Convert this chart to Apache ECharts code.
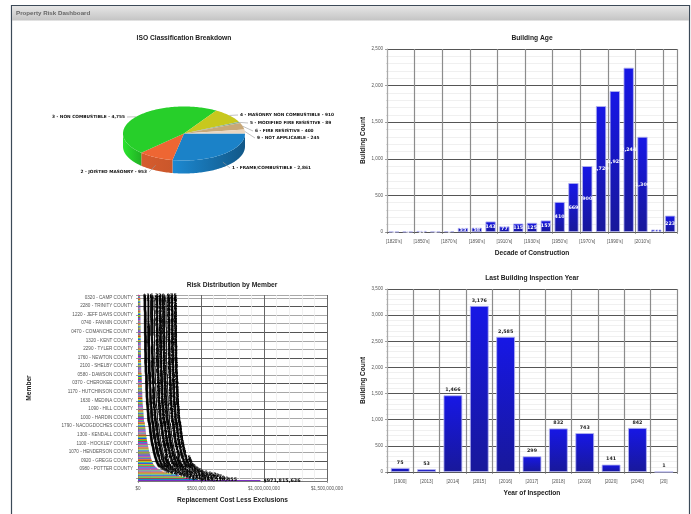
<!DOCTYPE html>
<html><head><meta charset="utf-8">
<script src="https://cdn.jsdelivr.net/npm/echarts@6/dist/echarts.min.js"></script>
<style>html,body{margin:0;padding:0;background:#fff}#c{width:691px;height:514px;filter:blur(.5px)}</style>
</head><body><div id="c"></div>
<script>
const dashboardTitle='Property Risk Dashboard';
const pieNames=['1 - FRAME/COMBUSTIBLE','2 - JOISTED MASONRY','3 - NON COMBUSTIBLE','4 - MASONRY NON COMBUSTIBLE','5 - MODIFIED FIRE RESISTIVE','6 - FIRE RESISTIVE','9 - NOT APPLICABLE'];
const pieValues=[2861,953,4755,910,89,400,245];
const pieColors=['#1b82c8','#ee6633','#27cf2a','#c8c81e','#8fb08f','#c8a878','#ead6c0'];
const ageCategories=["[1820's]","[1840's]","[1850's]","[1860's]","[1870's]","[1880's]","[1890's]","[1900's]","[1910's]","[1920's]","[1930's]","[1940's]","[1950's]","[1960's]","[1970's]","[1980's]","[1990's]","[2000's]","[2010's]","[2020's]",""];
const ageValues=[3,4,14,5,9,55,58,143,77,115,125,157,410,669,900,1720,1925,2244,1300,33,223];
const inspectCategories=['[1900]','[2013]','[2014]','[2015]','[2016]','[2017]','[2018]','[2019]','[2020]','[2040]','[20]'];
const inspectValues=[75,53,1466,3176,2585,299,832,743,141,842,1];
const memberLabels=['','0980 - POTTER COUNTY','0920 - GREGG COUNTY','1070 - HENDERSON COUNTY','1100 - HOCKLEY COUNTY','1300 - KENDALL COUNTY','1790 - NACOGDOCHES COUNTY','1000 - HARDIN COUNTY','1090 - HILL COUNTY','1630 - MEDINA COUNTY','1170 - HUTCHINSON COUNTY','0370 - CHEROKEE COUNTY','0580 - DAWSON COUNTY','2100 - SHELBY COUNTY','1760 - NEWTON COUNTY','2290 - TYLER COUNTY','1320 - KENT COUNTY','0470 - COMANCHE COUNTY','0740 - FANNIN COUNTY','1220 - JEFF DAVIS COUNTY','2280 - TRINITY COUNTY','0320 - CAMP COUNTY'];
const riskValues=[971815636,468210455,402117930,371664210,348902177,327450663,306118042,268775319,231904886,202336170,
188420915,174096332,161583704,150277418,141036925,133812640,127490258,122765031,118940376,115203847,
112078564,109315290,106742118,104186632,101930475,99684203,97320861,95118746,93240517,91472083,
89615320,87904116,86217459,84530772,82968105,81390644,79845213,78306957,76812340,75398126,
74021685,72688430,71305197,70128864,69041572,67850319,66732048,65618203,64520977,63471256,
62430118,61496825,60512437,59620184,58714063,57830291,56947520,56102384,55284617,54460932,
53671208,52894715,48120936,47510284,46895317,46302158,45716840,45120973,44590326,44051782,
43520619,43018254,42496107,41983526,41502874,41027631,40561298,40092745,39650182,37214806,
36890425,36512078,36190342,35870916,35542680,35230174,34918536,34620297,34310865,34021483,
33748120,33462907,33190254,32925718,32660431,32398206,32140875,31892340,31640718,31395062,
31152487,30918263,30680419,30452176,30226841,30005392,29784160,29570823,29358471,29150236,
28947105,28740862,28542307,25984016,25802743,25640198,25471836,25310627,25148093,24990318,
24836270,24681945,24530172,24382806,24237451,24095128,23950764,23812390,23675018,23540726,
23408152,23276904,23148537,23020618,22896341,22772085,22650739,22530462,22412807,22296153,
22180476,22068125,21955830,21846207,21738194,21630562,21526018,21421873,21320496,21220137,
21120685,21024310,20928457,20832906,20740218,20648135,20558027,20468391,20380942,20294106,
20208673,20124390,20040815,19958237,19876412,19796084,19716350,19638207,19560841,19484103,
19408276,19334518,19260739,19188042,19116395,19044826,18974310,18906152,18838067,18770941,
18704126,18640283,18576019,18512846,18450372,18388905,18328461,18268037,18208754,17940236,
17620418,17310562,16980347,16640182,16320975];
const axisFont='Liberation Sans';
const textGray='#555';
const boldFont='Liberation Sans';
const denseFont='DejaVu Sans';
const riskPalette=['#7b2fc0','#1b82c8','#c02060','#27cf2a','#e08a10','#2040d0','#20b0b0','#c8c81e','#a05a20','#ee6633','#5a5ad0','#60b060','#d040a0'];
const riskCategories=riskValues.map((v,i)=>i%9===3?memberLabels[(i-3)/9]:'');
const isMemberTick=(i)=>i%9===3;

const pieTotal=pieValues.reduce((a,b)=>a+b,0);
const PIE={cx:184,cy:133.5,rx:61,ry:27,depth:13};
const pieLabelSpot=[{x:232,y:168,a:'left'},{x:147,y:172,a:'right'},{x:125,y:117,a:'right'},{x:240,y:115,a:'left'},{x:250,y:123,a:'left'},{x:255,y:131,a:'left'},{x:257,y:138,a:'left'}];
function ell(t,dy){return [PIE.cx+PIE.rx*Math.cos(t),PIE.cy+PIE.ry*Math.sin(t)+(dy||0)];}
function shade(hex,k){const n=parseInt(hex.slice(1),16);const f=v=>Math.max(0,Math.min(255,Math.round(v*k)));return `rgb(${f(n>>16)},${f((n>>8)&255)},${f(n&255)})`;}
function renderPie(params,api){
  const i=params.dataIndex;
  let before=0;for(let k=0;k<i;k++)before+=pieValues[k];
  const a0=before/pieTotal*2*Math.PI,a1=(before+pieValues[i])/pieTotal*2*Math.PI;
  const pts=[[PIE.cx,PIE.cy]];const n=Math.max(4,Math.ceil((a1-a0)*40));
  for(let k=0;k<=n;k++)pts.push(ell(a0+(a1-a0)*k/n));
  const children=[];
  const w0=a0,w1=Math.min(a1,Math.PI);
  if(w1>w0){
    const top=[],bot=[];
    for(let k=0;k<=n;k++){const t=w0+(w1-w0)*k/n;top.push(ell(t));bot.unshift(ell(t,PIE.depth));}
    const warm=[[1.05,.68],[.9,.85],[1.1,.85]][i]||[1,1];
    children.push({type:'polygon',shape:{points:top.concat(bot)},style:{fill:{type:'linear',x:0,y:0,x2:1,y2:0,colorStops:[{offset:0,color:shade(pieColors[i],warm[0])},{offset:1,color:shade(pieColors[i],warm[1])}]}}});
  }
  children.push({type:'polygon',shape:{points:pts},style:{fill:pieColors[i]}});
  const mid=(a0+a1)/2,s=pieLabelSpot[i];
  const edge=ell(mid,Math.sin(mid)>0?PIE.depth*.6:0);
  const endX=s.a==='left'?s.x-2:s.x+2;
  children.push({type:'polyline',shape:{points:[edge,[endX,s.y]]},style:{fill:null,stroke:'#999',lineWidth:.6}});
  children.push({type:'text',style:{text:pieNames[i]+' - '+pieValues[i].toLocaleString('en-US'),x:s.x,y:s.y,align:s.a,verticalAlign:'middle',font:`bold 4.3px "${denseFont}"`,fill:'#111'}});
  return {type:'group',children};
}

const blueBar={type:'linear',x:0,y:0,x2:0,y2:1,colorStops:[{offset:0,color:'#1717e6'},{offset:1,color:'#18189a'}]};
function valueAxis(grid,max,interval,name,fmt,minor){return {type:'value',gridIndex:grid,min:0,max,interval,name,nameLocation:'middle',nameGap:minor.gap,nameTextStyle:{fontFamily:boldFont,fontWeight:'bold',fontSize:6.6,color:'#222'},
  axisLine:{show:true,lineStyle:{color:'#aaa',width:1}},axisTick:{show:true,length:2,lineStyle:{color:'#777',width:.7}},minorTick:{show:true,splitNumber:5,length:1,lineStyle:{color:'#bbb',width:.5}},
  axisLabel:{fontFamily:axisFont,fontSize:4.6,color:textGray,margin:4,formatter:fmt},
  splitLine:{show:true,lineStyle:{color:'#555',width:1}},minorSplitLine:{show:true,lineStyle:{color:'#ececec',width:.8}}};}
function catAxis(grid,data,name,every){return {type:'category',gridIndex:grid,data,name,nameLocation:'middle',nameGap:18,nameTextStyle:{fontFamily:boldFont,fontWeight:'bold',fontSize:6.6,color:'#222'},
  axisLine:{show:true,lineStyle:{color:'#555',width:1}},axisTick:{show:true,interval:every,length:2,lineStyle:{color:'#777',width:.7}},
  axisLabel:{interval:every,fontFamily:axisFont,fontSize:4.6,color:textGray,margin:7},
  splitLine:{show:true,interval:every,lineStyle:{color:'#8c8c8c',width:1.2}}};}
const numFmt=v=>v.toLocaleString('en-US');
const titles=[['ISO Classification Breakdown',184,38],['Building Age',532,38],['Risk Distribution by Member',232,285],['Last Building Inspection Year',532,278]];

const chart=echarts.init(document.getElementById('c'),null,{width:691,height:514});
chart.setOption({
  animation:false,
  graphic:[
    {type:'rect',z:-1,shape:{x:11.5,y:5.5,width:678,height:520},style:{fill:'#fff',stroke:'#3c4a58',lineWidth:1.2}},
    {type:'rect',z:-1,shape:{x:12,y:6,width:677,height:14.5},style:{fill:{type:'linear',x:0,y:0,x2:0,y2:1,colorStops:[{offset:0,color:'#e6e6e6'},{offset:1,color:'#c4c4c4'}]}}},
    {type:'text',style:{text:dashboardTitle,x:16,y:13.3,verticalAlign:'middle',font:`bold 6.2px "${axisFont}"`,fill:'#666'}},
    ...titles.map(t=>({type:'text',style:{text:t[0],x:t[1],y:t[2],align:'center',verticalAlign:'middle',font:`bold 6.7px "${boldFont}"`,fill:'#222'}}))
  ],
  grid:[
    {left:387,top:49,width:290,height:183,show:true,borderWidth:0},
    {left:138,top:295,width:189,height:186},
    {left:387,top:289,width:290,height:183}
  ],
  xAxis:[
    catAxis(0,ageCategories,'Decade of Construction',1),
    {type:'value',gridIndex:1,min:0,max:1500000000,interval:500000000,name:'Replacement Cost Less Exclusions',nameLocation:'middle',nameGap:16,nameTextStyle:{fontFamily:boldFont,fontWeight:'bold',fontSize:6.6,color:'#222'},
      axisLine:{show:true,lineStyle:{color:'#777'}},axisTick:{show:true,length:2,lineStyle:{color:'#777',width:.7}},
      axisLabel:{fontFamily:axisFont,fontSize:4.6,color:textGray,margin:5,formatter:v=>'$'+numFmt(v)},
      splitLine:{show:true,lineStyle:{color:'#666',width:1}},minorSplitLine:{show:true,lineStyle:{color:'#ededed',width:.8}},minorTick:{show:false,splitNumber:5}},
    catAxis(2,inspectCategories,'Year of Inspection',0)
  ],
  yAxis:[
    valueAxis(0,2500,500,'Building Count',numFmt,{gap:20}),
    {type:'category',gridIndex:1,data:riskCategories,name:'Member',nameLocation:'middle',nameGap:105,nameTextStyle:{fontFamily:boldFont,fontWeight:'bold',fontSize:6.6,color:'#222'},
      axisLine:{show:true,lineStyle:{color:'#aaa'}},axisTick:{show:true,interval:(i)=>isMemberTick(i),length:2,lineStyle:{color:'#777',width:.7}},
      axisLabel:{interval:(i)=>isMemberTick(i),fontFamily:axisFont,fontSize:4.6,color:textGray,margin:5},
      splitLine:{show:true,interval:(i)=>isMemberTick(i),lineStyle:{color:['#a8a8a8','#a8a8a8','#555'],width:1}}},
    valueAxis(2,3500,500,'Building Count',numFmt,{gap:20})
  ],
  series:[
    {type:'custom',coordinateSystem:'none',renderItem:renderPie,data:pieValues,clip:false,silent:true},
    {type:'bar',xAxisIndex:0,yAxisIndex:0,data:ageValues,barWidth:'74%',itemStyle:{color:blueBar,borderColor:'#b4b4ee',borderWidth:.8},
      label:{show:true,position:'inside',color:'#fff',fontFamily:denseFont,fontWeight:'bold',fontSize:4.8,formatter:p=>numFmt(p.value)}},
    {type:'bar',xAxisIndex:1,yAxisIndex:1,data:riskValues,barWidth:'100%',itemStyle:{color:p=>riskPalette[p.dataIndex%riskPalette.length]},
      label:{show:true,position:'right',distance:3,color:'#000',fontFamily:denseFont,fontWeight:'bold',fontSize:4.8,formatter:p=>'$'+numFmt(p.value)}},
    {type:'bar',xAxisIndex:2,yAxisIndex:2,data:inspectValues,barWidth:'71%',itemStyle:{color:blueBar,borderColor:'#b4b4ee',borderWidth:.8},
      label:{show:true,position:'top',distance:3,color:'#222',fontFamily:denseFont,fontWeight:'bold',fontSize:4.8,formatter:p=>numFmt(p.value)}}
  ]
});
</script></body></html>
